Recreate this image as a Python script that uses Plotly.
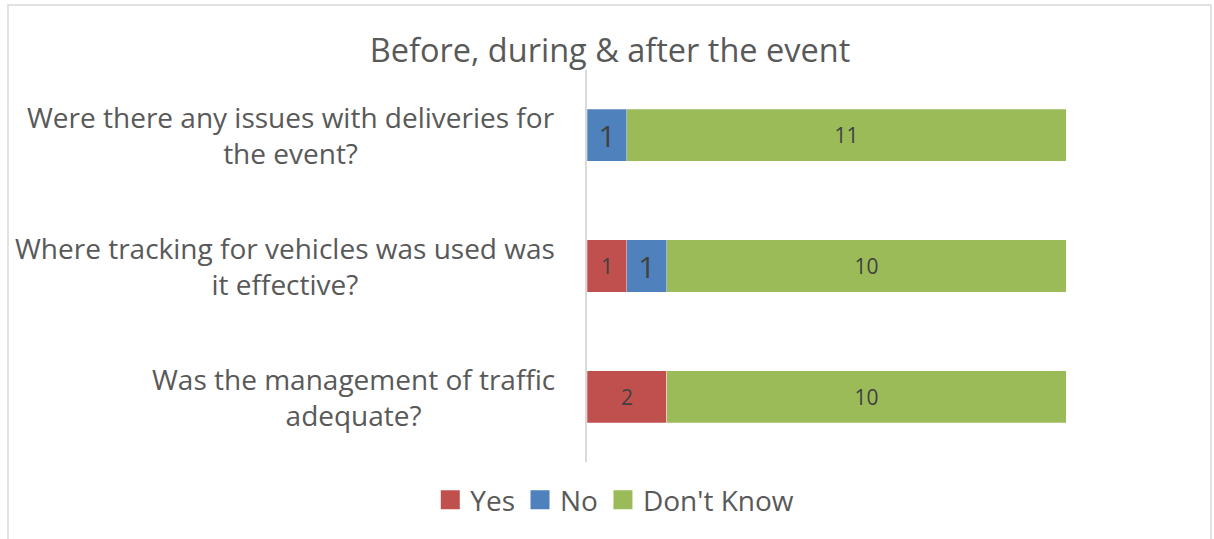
import plotly.graph_objs as go

questions = [
    "Were there any issues with deliveries for<br>the event?",
    "Where tracking for vehicles was used was<br>it effective?",
    "Was the management of traffic<br>adequate?",
]
yes = [0, 1, 2]
no = [1, 1, 0]
dont_know = [11, 10, 10]

series = [
    ("Yes", yes, "#C0504D", 21),
    ("No", no, "#4F81BD", 30),
    ("Don't Know", dont_know, "#9BBB59", 21),
]

font = "Open Sans, Noto Sans, sans-serif"
grey = "#595959"

fig = go.Figure()
for name, vals, color, size in series:
    fig.add_trace(go.Bar(
        y=questions, x=vals, name=name, orientation="h",
        marker=dict(color=color, line=dict(color="rgba(255,255,255,0.5)", width=0.5)),
        text=[str(v) if v else "" for v in vals],
        textposition="inside", insidetextanchor="middle",
        textfont=dict(size=size, color="#404040", family=font),
        showlegend=False, hoverinfo="x+name",
    ))
    # legend entries with bigger square swatches
    fig.add_trace(go.Scatter(
        x=[None], y=[None], mode="markers", name=name,
        marker=dict(symbol="square", size=16, color=color,
                    line=dict(color=color, width=3)),
    ))

for q in questions:
    fig.add_annotation(
        x=-0.0626, xref="paper", y=q, yref="y", text=q,
        xanchor="right", yanchor="middle", align="center", showarrow=False,
        font=dict(size=28, color=grey, family=font),
    )

# chart border
fig.add_shape(type="rect", xref="paper", yref="paper",
              x0=-1.2088, x1=1.3027, y0=-0.25, y1=1.1658,
              line=dict(color="#D9D9D9", width=1.5), layer="below")

fig.update_layout(
    width=1214, height=539,
    margin=dict(l=587, r=148, t=70, b=77),
    paper_bgcolor="white", plot_bgcolor="white",
    barmode="stack", bargap=0.6,
    title=dict(text="Before, during & after the event", x=0.5025, y=0.907,
               xanchor="center", yanchor="middle",
               font=dict(size=32.5, color=grey, family=font)),
    legend=dict(orientation="h", traceorder="normal", x=0.058, xref="paper",
                xanchor="center", y=-0.097, yanchor="middle",
                font=dict(size=28, color=grey, family=font)),
    xaxis=dict(range=[0, 12], visible=False, fixedrange=True),
    yaxis=dict(autorange="reversed", showticklabels=False, showgrid=False,
               showline=True, linecolor="#D9D9D9", linewidth=2, ticks=""),
)

fig.write_html("out.html", config={"displayModeBar": False},
               post_script="document.body.style.margin='0';")
